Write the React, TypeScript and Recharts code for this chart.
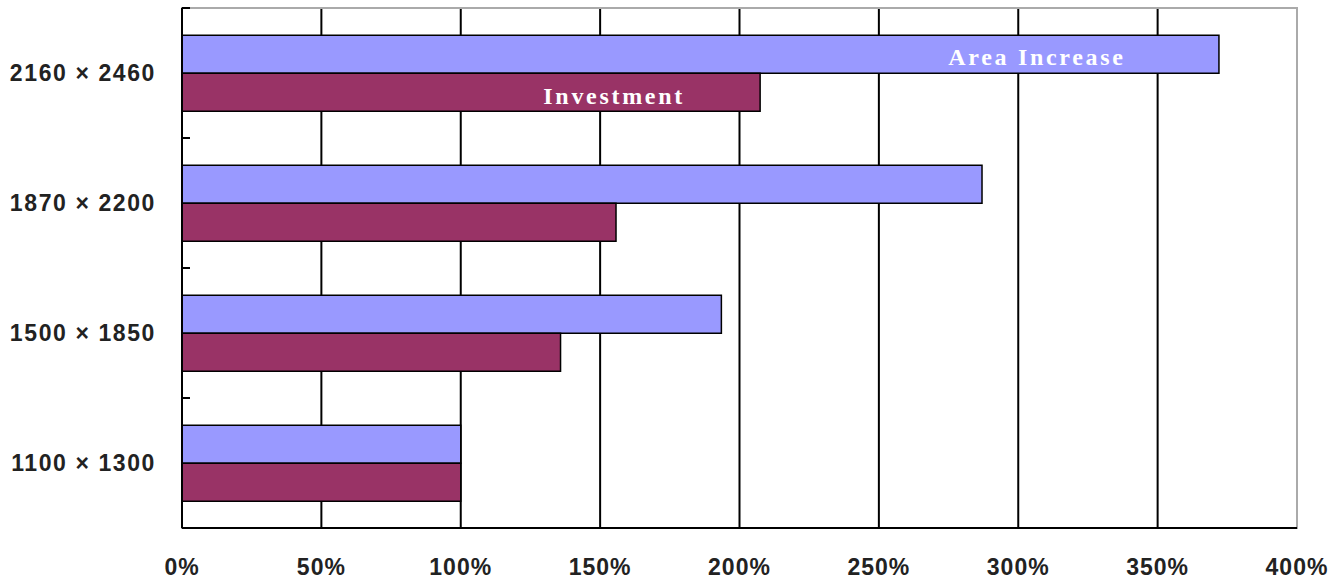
import React from 'react';
import {
  BarChart,
  Bar,
  XAxis,
  YAxis,
  CartesianGrid,
  LabelList,
  ReferenceArea,
} from 'recharts';

const categories = ['2160 × 2460', '1870 × 2200', '1500 × 1850', '1100 × 1300'];
const areaIncrease = [372, 287, 193.5, 100];
const investment = [207.4, 155.7, 135.8, 100];
const xTicks = [0, 50, 100, 150, 200, 250, 300, 350, 400];
const gridValues = [50, 100, 150, 200, 250, 300, 350];
const seriesNames = ['Area Increase', 'Investment'];

const data = categories.map((c, i) => ({
  name: c,
  area: areaIncrease[i],
  inv: investment[i],
}));

const AXIS_FONT = '"Liberation Sans", Arial, sans-serif';
const LABEL_FONT = '"Liberation Serif", "Times New Roman", serif';

const YTick = (props: any) => {
  const { x, y, payload } = props;
  const half = payload && payload.offset ? payload.offset : 65;
  return (
    <g>
      <text
        x={x}
        y={y}
        textAnchor="end"
        dominantBaseline="central"
        fontFamily={AXIS_FONT}
        fontWeight="bold"
        fontSize={23}
        letterSpacing={1.6}
        fill="#222"
      >
        {payload.value}
      </text>
      <line x1={x + 26} x2={x + 34} y1={y - half} y2={y - half} stroke="#000" strokeWidth={2} />
    </g>
  );
};

const makeLabel = (text: string, endOffset: number, dyc: number) => (props: any) => {
  const { x, y, width, height, index } = props;
  if (index !== 0) return null;
  return (
    <text
      x={x + width - endOffset}
      y={y + height / 2 + dyc}
      textAnchor="middle"
      dominantBaseline="central"
      fontFamily={LABEL_FONT}
      fontWeight="bold"
      fontSize={24}
      letterSpacing={2.7}
      fill="#ffffff"
    >
      {text}
    </text>
  );
};

export default function App() {
  return (
    <div style={{ position: 'absolute', left: 0, top: 0, width: 1334, height: 580, background: '#fff' }}>
      <BarChart
        width={1334}
        height={580}
        data={data}
        layout="vertical"
        margin={{ top: 8, right: 37, bottom: 12, left: 12 }}
        barCategoryGap="21%"
        barGap={0}
      >
        <ReferenceArea x1={0} x2={400} fill="none" stroke="#aaaaaa" strokeWidth={2} />
        <CartesianGrid horizontal={false} vertical verticalValues={gridValues} stroke="#000" strokeWidth={2} />
        <XAxis
          type="number"
          domain={[0, 400]}
          ticks={xTicks}
          interval={0}
          tickFormatter={(v: number) => `${v}%`}
          tickLine={false}
          tickSize={0}
          tickMargin={31}
          height={40}
          axisLine={{ stroke: '#000', strokeWidth: 2 }}
          tick={{ fontFamily: AXIS_FONT, fontWeight: 'bold', fontSize: 23, fill: '#222', letterSpacing: 1 }}
        />
        <YAxis
          type="category"
          dataKey="name"
          width={170}
          tickLine={false}
          tickSize={0}
          tickMargin={26}
          axisLine={{ stroke: '#000', strokeWidth: 2 }}
          tick={<YTick />}
          interval={0}
        />
        <Bar dataKey="area" name={seriesNames[0]} fill="#9999FF" stroke="#000" strokeWidth={1.5} isAnimationActive={false}>
          <LabelList dataKey="area" content={makeLabel(seriesNames[0], 182, 3)} />
        </Bar>
        <Bar dataKey="inv" name={seriesNames[1]} fill="#993366" stroke="#000" strokeWidth={1.5} isAnimationActive={false}>
          <LabelList dataKey="inv" content={makeLabel(seriesNames[1], 146, 4)} />
        </Bar>
      </BarChart>
    </div>
  );
}
